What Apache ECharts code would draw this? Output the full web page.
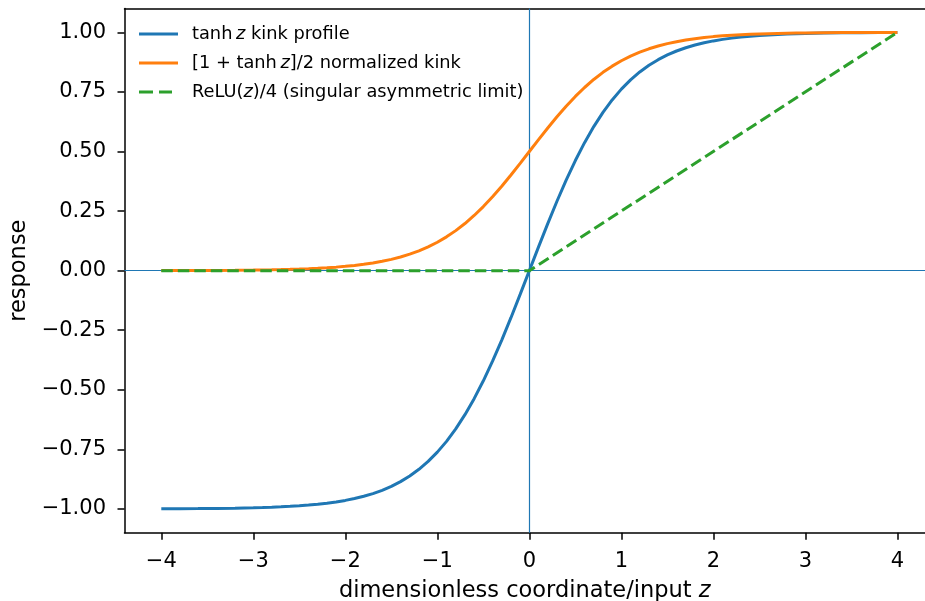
<!DOCTYPE html>
<html><head><meta charset="utf-8">
<script src="https://cdn.jsdelivr.net/npm/echarts@6/dist/echarts.min.js"></script>
<style>html,body{margin:0;padding:0;background:#fff}#c{width:925px;height:601px}</style>
</head><body><div id="c"></div>
<script>
const zValues = [-4,-3.8,-3.6,-3.4,-3.2,
  -3,-2.9,-2.8,-2.7,-2.6,-2.5,-2.4,-2.3,-2.2,-2.1,-2,-1.9,-1.8,-1.7,-1.6,-1.5,-1.4,-1.3,-1.2,-1.1,-1,-0.9,-0.8,-0.7,-0.6,-0.5,-0.4,-0.3,-0.2,-0.1,
  0,0.1,0.2,0.3,0.4,0.5,0.6,0.7,0.8,0.9,1,1.1,1.2,1.3,1.4,1.5,1.6,1.7,1.8,1.9,2,2.1,2.2,2.3,2.4,2.5,2.6,2.7,2.8,2.9,3,
  3.2,3.4,3.6,3.8,4];
const tanhValues = [-0.99933,-0.999,-0.99851,-0.99777,-0.99668,
  -0.99505,-0.99396,-0.99263,-0.99101,-0.98903,-0.98661,-0.98367,-0.9801,-0.97574,-0.97045,-0.96403,-0.95624,-0.94681,-0.93541,-0.92167,-0.90515,-0.88535,-0.86172,-0.83365,-0.8005,-0.76159,-0.7163,-0.66404,-0.60437,-0.53705,-0.46212,-0.37995,-0.29131,-0.19738,-0.09967,
  0,0.09967,0.19738,0.29131,0.37995,0.46212,0.53705,0.60437,0.66404,0.7163,0.76159,0.8005,0.83365,0.86172,0.88535,0.90515,0.92167,0.93541,0.94681,0.95624,0.96403,0.97045,0.97574,0.9801,0.98367,0.98661,0.98903,0.99101,0.99263,0.99396,0.99505,
  0.99668,0.99777,0.99851,0.999,0.99933];
const normValues = [0.00034,0.0005,0.00075,0.00112,0.00166,
  0.00247,0.00302,0.00369,0.00449,0.00549,0.00669,0.00816,0.00995,0.01213,0.01477,0.01799,0.02188,0.0266,0.03229,0.03917,0.04742,0.05732,0.06914,0.08317,0.09975,0.1192,0.14185,0.16798,0.19781,0.23148,0.26894,0.31003,0.35434,0.40131,0.45017,
  0.5,0.54983,0.59869,0.64566,0.68997,0.73106,0.76852,0.80219,0.83202,0.85815,0.8808,0.90025,0.91683,0.93086,0.94268,0.95258,0.96083,0.96771,0.9734,0.97812,0.98201,0.98523,0.98787,0.99005,0.99184,0.99331,0.99451,0.99551,0.99631,0.99698,0.99753,
  0.99834,0.99888,0.99925,0.9995,0.99966];
const reluZ = [-4, 0, 4];
const reluValues = [0, 0, 1];
const xTicks = [-4,-3,-2,-1,0,1,2,3,4];
const yTicks = [-1,-0.75,-0.5,-0.25,0,0.25,0.5,0.75,1];
const seriesNames = ['tanh z kink profile','[1 + tanh z]/2 normalized kink','ReLU(z)/4 (singular asymmetric limit)'];
const legendLabels = {
  'tanh z kink profile': 'tanh\u2009{i|z} kink profile',
  '[1 + tanh z]/2 normalized kink': '[1 + tanh\u2009{i|z}]/2 normalized kink',
  'ReLU(z)/4 (singular asymmetric limit)': 'ReLU({i|z})/4 (singular asymmetric limit)'
};

const FONT = 'DejaVu Sans';
const pair = (xs, ys) => xs.map((x, i) => [x, ys[i]]);
const fmtMinus = s => s.replace('-', '\u2212');
const SOLID_ICON = 'path://M0,0H39V3H0Z';
const DASH_ICON = 'path://M0,0H14V3H0Z M20,0H33V3H20Z M39,0H39V3H39Z';

const chart = echarts.init(document.getElementById('c'), null, {renderer: 'canvas'});
chart.setOption({
  animation: false,
  backgroundColor: '#fff',
  grid: {left: 124.5, right: 0, top: 8.5, bottom: 68.2, outerBoundsMode: 'none', containLabel: false},
  legend: {
    data: [
      {name: seriesNames[0], icon: SOLID_ICON},
      {name: seriesNames[1], icon: SOLID_ICON},
      {name: seriesNames[2], icon: DASH_ICON}
    ],
    orient: 'vertical', left: 139, top: 25, padding: 0,
    itemWidth: 39, itemHeight: 14, itemGap: 11,
    itemStyle: {borderWidth: 0},
    lineStyle: {width: 0},
    formatter: n => legendLabels[n],
    textStyle: {fontFamily: FONT, fontSize: 17.8, color: '#000', padding: [0,0,0,9], lineHeight: 14,
      rich: {i: {fontFamily: FONT, fontSize: 17.8, fontStyle: 'italic', color: '#000', lineHeight: 14}}}
  },
  xAxis: [{
    type: 'value', min: -4.4, max: 4.3,
    name: 'dimensionless coordinate/input {i|z}', nameLocation: 'middle', nameGap: 47,
    nameTextStyle: {fontFamily: FONT, fontSize: 22.5, color: '#000', rich: {i: {fontFamily: FONT, fontSize: 22.5, fontStyle: 'italic', color: '#000'}}},
    axisLine: {show: true, onZero: false, lineStyle: {color: '#000', width: 1.5}},
    axisTick: {show: true, length: 7, lineStyle: {color: '#000', width: 1.5}, customValues: xTicks},
    axisLabel: {customValues: xTicks, fontFamily: FONT, fontSize: 21, color: '#000', margin: 18, formatter: v => fmtMinus(String(v))},
    splitLine: {show: false}
  }, {
    type: 'value', position: 'top', min: -4.4, max: 4.3,
    axisLine: {show: true, onZero: false, lineStyle: {color: '#000', width: 1.5}},
    axisTick: {show: false}, axisLabel: {show: false}, splitLine: {show: false}
  }],
  yAxis: {
    type: 'value', min: -1.1, max: 1.1,
    name: 'response', nameLocation: 'middle', nameGap: 94, nameRotate: 90,
    nameTextStyle: {fontFamily: FONT, fontSize: 22.5, color: '#000'},
    axisLine: {show: true, onZero: false, lineStyle: {color: '#000', width: 1.5}},
    axisTick: {show: true, length: 7, lineStyle: {color: '#000', width: 1.5}, customValues: yTicks},
    axisLabel: {customValues: yTicks, fontFamily: FONT, fontSize: 21, color: '#000', margin: 18.5, formatter: v => fmtMinus(v.toFixed(2))},
    splitLine: {show: false}
  },
  series: [
    {
      name: '_ref', type: 'line', data: [], silent: true, z: 1, color: '#1f77b4',
      itemStyle: {color: '#1f77b4'}, lineStyle: {color: '#1f77b4'},
      markLine: {
        silent: true, symbol: 'none', z: 1, label: {show: false},
        itemStyle: {color: '#1f77b4'},
        lineStyle: {color: '#1f77b4', width: 1.2, type: 'solid', opacity: 1},
        emphasis: {disabled: true},
        data: [{xAxis: 0}, {yAxis: 0}]
      }
    },
    {name: seriesNames[0], type: 'line', data: pair(zValues, tanhValues), showSymbol: false, symbol: 'none', smooth: false, z: 3,
      color: '#1f77b4', lineStyle: {color: '#1f77b4', width: 3}},
    {name: seriesNames[1], type: 'line', data: pair(zValues, normValues), showSymbol: false, symbol: 'none', smooth: false, z: 3,
      color: '#ff7f0e', lineStyle: {color: '#ff7f0e', width: 3}},
    {name: seriesNames[2], type: 'line', data: pair(reluZ, reluValues), showSymbol: false, symbol: 'none', z: 4,
      color: '#2ca02c', lineStyle: {color: '#2ca02c', width: 3, type: [11.5, 5]}}
  ]
});
</script></body></html>
